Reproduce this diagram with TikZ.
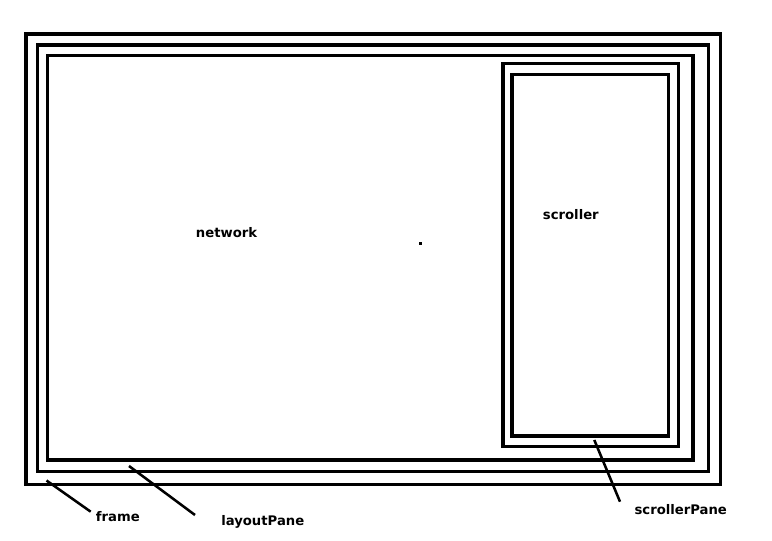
\documentclass[tikz,border=0pt]{standalone}
\usepackage{fontspec}
\newfontfamily\lblfont{DejaVu Sans}
\begin{document}
\begin{tikzpicture}[x=0.75pt,y=-0.75pt,
  box/.style={draw=black,line width=2.4pt},
  leader/.style={draw=black,line width=1.9pt},
  lbl/.style={inner sep=0pt,anchor=base west,font=\lblfont\bfseries\fontsize{9.9pt}{11pt}\selectfont}]
\useasboundingbox (0,0) rectangle (772,540);
\fill[white] (0,0) rectangle (772,540);
% rectangles
\draw[box] (26,34) rectangle (720.5,484.5);
\draw[box] (37.5,45) rectangle (708.5,471.5);
\draw[box] (47.5,55.5) rectangle (693,460);
\draw[box] (503,63.5) rectangle (678.5,446.5);
\draw[box] (512,74.5) rectangle (668.5,436);
% dot
\fill[black] (418.5,242) rectangle (421.8,245.3);
% labels
\node[lbl] (network) at (195.7,237.7) {network};
\node[lbl] (scroller) at (542.7,219) {scroller};
\node[lbl] (frame) at (95.7,521.5) {frame};
\node[lbl] (layoutPane) at (221,525.5) {layoutPane};
\node[lbl] (scrollerPane) at (634.3,514.3) {scrollerPane};
% leader ends
\coordinate (fA) at (46.5,480.5);
\coordinate (fB) at (90.7,511.7);
\coordinate (lA) at (129,466);
\coordinate (lB) at (195,515);
\coordinate (sA) at (594.3,440);
\coordinate (sB) at (620,501.7);
\draw[leader] (fA) -- (fB);
\draw[leader] (lA) -- (lB);
\draw[leader] (sA) -- (sB);
\end{tikzpicture}
\end{document}
